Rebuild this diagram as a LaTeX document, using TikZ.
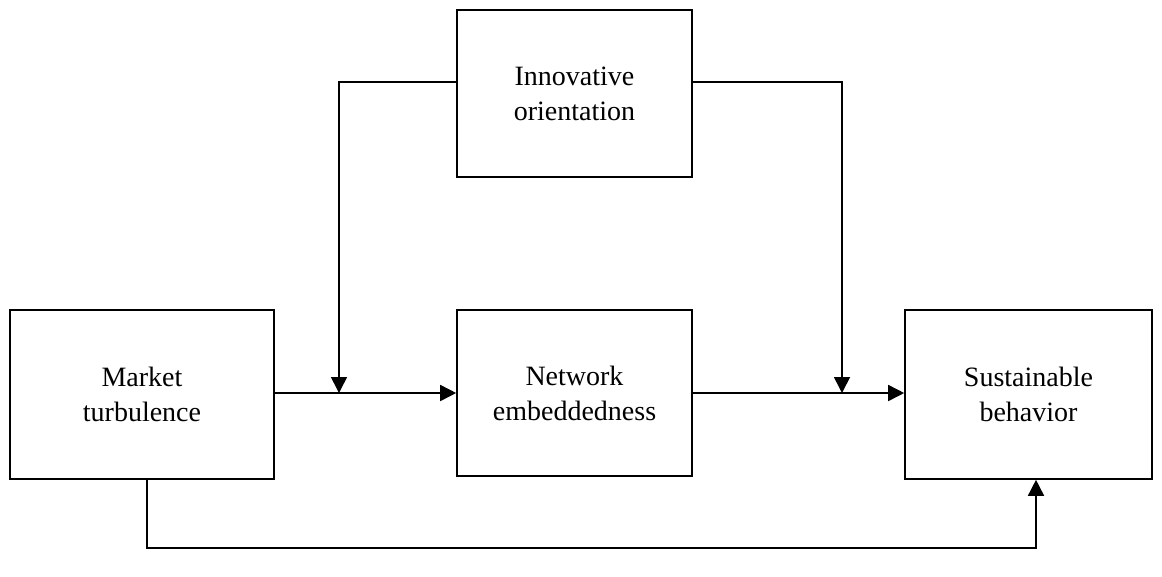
\documentclass[tikz,border=0pt]{standalone}
\usepackage{fontspec}
\setmainfont{Liberation Serif}
\usetikzlibrary{arrows.meta}
\begin{document}
\begin{tikzpicture}[x=1pt,y=-1pt,
  box/.style={draw,line width=1.6pt,inner sep=0pt,align=center,font=\fontsize{28}{35}\selectfont},
  conn/.style={line width=1.6pt,-{Triangle[length=16pt,width=16pt]}}]
\useasboundingbox (0,0) rectangle (1162,576);
\node[box,minimum width=235pt,minimum height=167pt] (io) at (574.5,93.5) {Innovative\\orientation};
\node[box,minimum width=264pt,minimum height=169pt] (mt) at (142,394.5) {Market\\turbulence};
\node[box,minimum width=235pt,minimum height=166pt] (ne) at (574.5,393) {Network\\embeddedness};
\node[box,minimum width=247pt,minimum height=169pt] (sb) at (1028.5,394.5) {Sustainable\\behavior};
\coordinate (j1) at (339,393);
\coordinate (j2) at (842,393);
\coordinate (b1) at (147,548);
\coordinate (b2) at (1036,548);
\draw[conn] (mt.east |- j1) -- (ne.west |- j1);
\draw[conn] (ne.east |- j2) -- (sb.west |- j2);
\draw[conn] (io.west |- 0,82) -| (j1);
\draw[conn] (io.east |- 0,82) -| (j2);
\draw[conn] (mt.south -| b1) -- (b1) -- (b2) -- (sb.south -| b2);
\end{tikzpicture}
\end{document}
